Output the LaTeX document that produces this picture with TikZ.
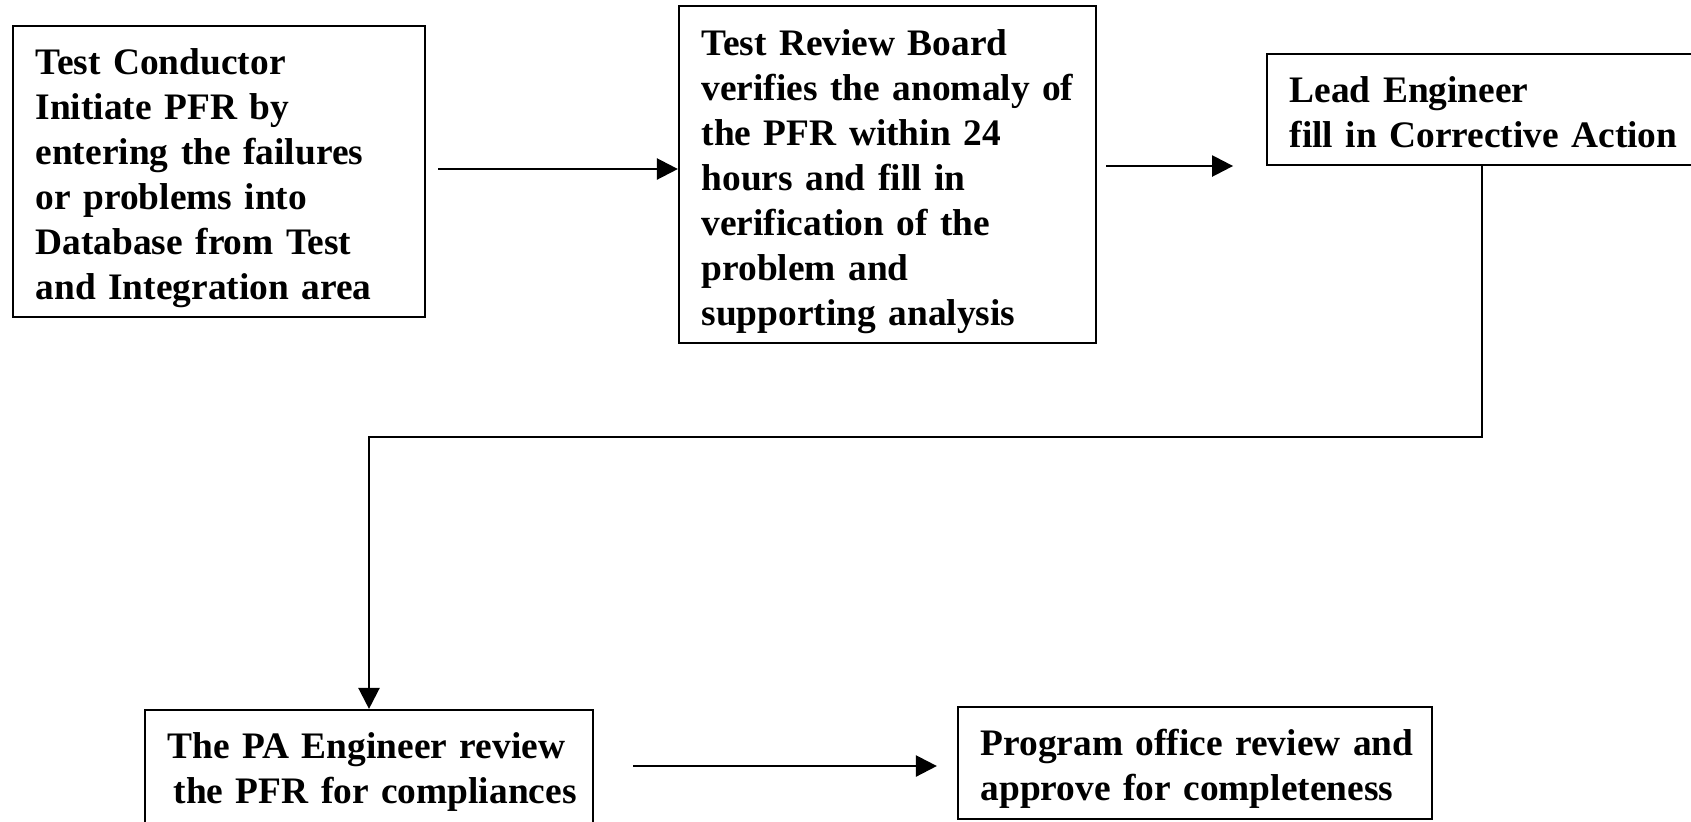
\documentclass[tikz,border=0pt]{standalone}
\usepackage{fontspec}
\setmainfont{Liberation Serif}
\usetikzlibrary{arrows.meta}

\begin{document}
\begin{tikzpicture}[x=0.5pt,y=-0.5pt,
  stepbox/.style={draw,line width=1.1pt,align=left,inner xsep=9pt,
    font=\fontsize{18.7}{22.5}\selectfont\bfseries},
  drop/.style={execute at begin node={\leftskip=2.3pt\rightskip=-2.3pt plus 2em\rule{0pt}{#1}}},
  flow/.style={line width=1.2pt,-{Triangle[length=10.5pt,width=10.5pt]}}]
\useasboundingbox (0,0) rectangle (1691,821);
% Row 1: report, board check, corrective action
\node[stepbox,drop=20pt,text width=188pt,minimum height=145.5pt] (conductor) at (219,171.5)
  {Test Conductor\\Initiate PFR by\\entering the failures\\or problems into\\Database from Test\\and Integration area};
\node[stepbox,drop=20pt,text width=190.5pt,minimum height=168.5pt] (board) at (887.5,174.5)
  {Test Review Board\\verifies the anomaly of\\the PFR within 24\\hours and fill in\\verification of the\\problem and\\supporting analysis};
\node[stepbox,drop=15.6pt,text width=197pt,minimum height=55.5pt] (lead) at (1482,109.5)
  {Lead Engineer\\fill in Corrective Action};
\draw[flow] ([xshift=6pt,yshift=1.25pt]conductor.east) -- ([yshift=1.25pt]conductor.east -| board.west);
\draw[flow] ([xshift=4.5pt,yshift=4.25pt]board.east) -- ++(63.5pt,0);
% Row 2: PA check, program office
\node[stepbox,drop=14.5pt,text width=206pt,minimum height=60pt] (pa) at (369,770)
  {The PA Engineer review\\\hspace*{3pt}the PFR for compliances};
\node[stepbox,drop=19pt,text width=219pt,minimum height=56pt] (office) at (1195,763)
  {Program office review and\\approve for completeness};
\draw[flow] (lead.south) -- ++(0,271) -| (pa.north);
\draw[flow] ([xshift=19.5pt,yshift=2pt]pa.east) -- ([xshift=-10pt,yshift=2pt]pa.east -| office.west);
\end{tikzpicture}
\end{document}
